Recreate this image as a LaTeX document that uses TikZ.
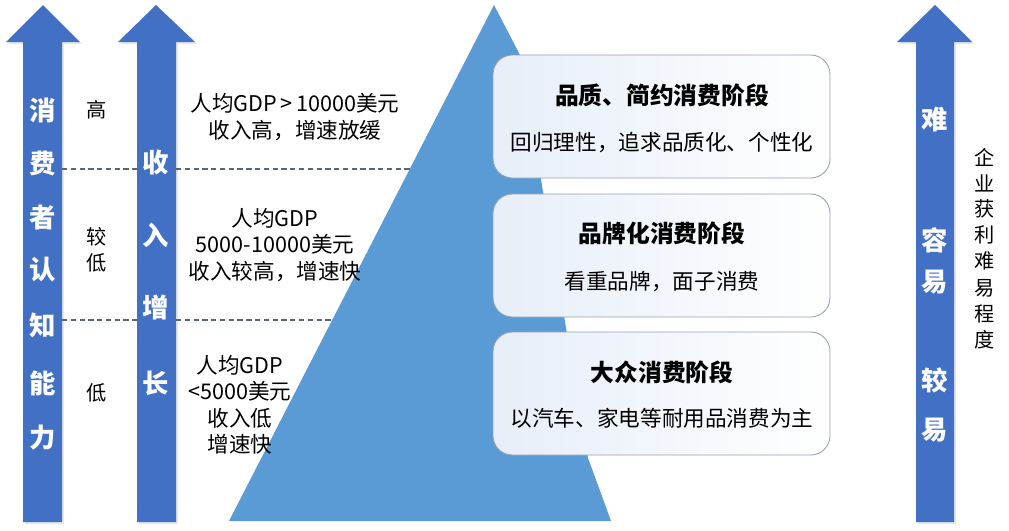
\documentclass[tikz,border=0pt]{standalone}
\usepackage{fontspec}
\setmainfont{Noto Sans CJK SC}
\usetikzlibrary{shadows}
\definecolor{pyrblue}{RGB}{91,155,213}
\definecolor{arrblue}{RGB}{66,112,196}
\definecolor{boxedge}{RGB}{150,160,178}
\definecolor{boxtint}{RGB}{230,238,249}
\definecolor{dashgray}{RGB}{90,100,120}
\tikzset{
  uparrow/.style={fill=arrblue, draw=none, drop shadow={opacity=0.2, shadow xshift=1pt, shadow yshift=-1pt}},
  archar/.style={text=white, font=\fontsize{15}{15}\selectfont\bfseries, inner sep=0pt},
  sidechar/.style={font=\fontsize{11.5}{12}\selectfont, inner sep=0pt},
  levtext/.style={font=\fontsize{12.3}{15}\selectfont, align=center, inner sep=0pt},
  stagebox/.style={draw=boxedge, line width=0.5pt, rounded corners=11pt, left color=boxtint, right color=white},
  stagetitle/.style={font=\fontsize{13.5}{14}\selectfont\bfseries, inner sep=0pt},
  stagesub/.style={font=\fontsize{12.3}{13}\selectfont, inner sep=0pt},
  gapline/.style={draw=dashgray, dash pattern=on 3pt off 2pt, line width=0.6pt}
}
\begin{document}
\begin{tikzpicture}[x=0.02cm, y=-0.02cm]
\useasboundingbox (0,0) rectangle (1009,531);

\foreach \xa/\xb/\ha/\hb/\tx in {23/62/6/80/43, 137/176/118/195/156, 916/954/897/972/935} {
\path[uparrow] (\xa,522) -- (\xa,42) -- (\ha,42) -- (\tx,5) -- (\hb,42) -- (\xb,42) -- (\xb,522) -- cycle;}

\foreach \y in {169,320} {
\draw[gapline] (62,\y) -- (137,\y);
\draw[gapline] (176,\y) -- (430,\y);}

\fill[pyrblue] (494,5) -- (229,521) -- (611,521) -- (588,458) -- (520,55) -- cycle;

\path[stagebox] (493,55) rectangle (830,178);
\path[stagebox] (493,194) rectangle (830,317);
\path[stagebox] (493,332) rectangle (830,455);

\node[stagetitle] (t1) at (662,95) {品质、简约消费阶段};
\node[stagesub] (s1) at (662,143) {回归理性，追求品质化、个性化};
\node[stagetitle] (t2) at (662,233) {品牌化消费阶段};
\node[stagesub] (s2) at (662,282) {看重品牌，面子消费};
\node[stagetitle] (t3) at (662,372) {大众消费阶段};
\node[stagesub] (s3) at (662,418) {以汽车、家电等耐用品消费为主};

\foreach \ch/\y [count=\i] in {消/110, 费/163, 者/217, 认/270, 知/325, 能/383, 力/438} {
\node[archar] (cons\i) at (43,\y) {\ch};}
\foreach \ch/\y [count=\i] in {收/163, 入/235, 增/307, 长/383} {
\node[archar] (inc\i) at (156,\y) {\ch};}
\foreach \ch/\y [count=\i] in {难/120, 容/240, 易/282, 较/380, 易/430} {
\node[archar] (dif\i) at (935,\y) {\ch};}
\foreach \ch/\y [count=\i] in {企/157, 业/183, 获/209, 利/235, 难/261, 易/288, 程/314, 度/340} {
\node[sidechar] (prof\i) at (985,\y) {\ch};}

\node[sidechar] (lvhigh) at (97,110) {高};
\node[sidechar] (lvmid1) at (97,237) {较};
\node[sidechar] (lvmid2) at (97,263) {低};
\node[sidechar] (lvlow) at (97,393) {低};

\node[levtext] (gdphigh) at (295,117) {人均GDP\,>\,10000美元\\收入高，增速放缓};
\node[levtext] (gdpmid) at (275,245) {人均GDP\\5000-10000美元\\收入较高，增速快};
\node[levtext] (gdplow) at (240,405) {人均GDP\\<5000美元\\收入低\\增速快};
\end{tikzpicture}
\end{document}
